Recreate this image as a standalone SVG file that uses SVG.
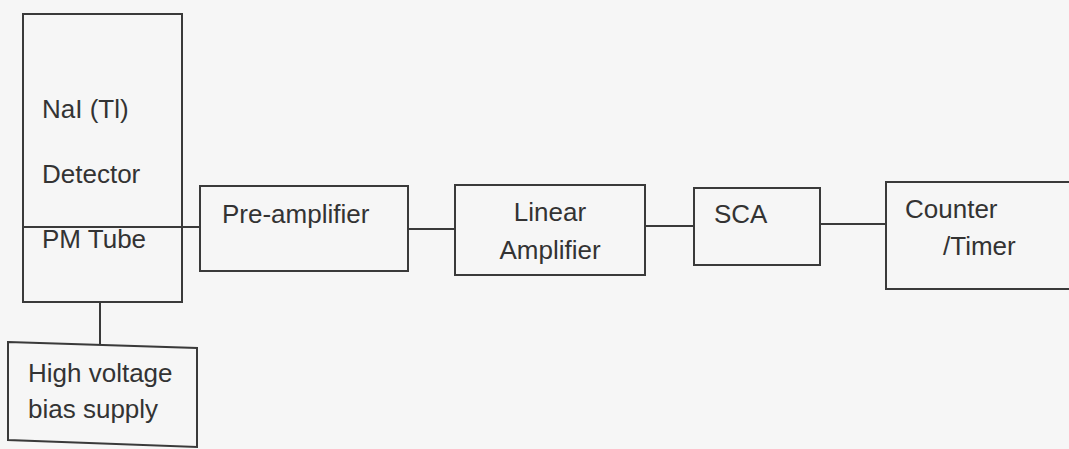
<svg xmlns="http://www.w3.org/2000/svg" width="1069" height="449" viewBox="0 0 1069 449">
<style>
.box{fill:none;stroke:#3a3a3a;stroke-width:2}
.ln{fill:none;stroke:#3a3a3a;stroke-width:2}
.t{font-family:"Liberation Sans",Arial,sans-serif;font-size:26px;fill:#333}
</style>
<rect width="1069" height="449" fill="#f6f6f6"/>
<g id="connectors">
<line class="ln" x1="23" y1="227" x2="200" y2="227"/>
<line class="ln" x1="408" y1="229" x2="455" y2="229"/>
<line class="ln" x1="645" y1="226" x2="694" y2="226"/>
<line class="ln" x1="820" y1="224" x2="886" y2="224"/>
<line class="ln" x1="100" y1="302" x2="100" y2="345"/>
</g>
<g id="detector">
<rect class="box" x="23" y="14" width="159" height="288"/>
<text class="t" x="42" y="118">NaI (Tl)</text>
<text class="t" x="42" y="183">Detector</text>
<text class="t" x="42" y="248">PM Tube</text>
</g>
<g id="hv">
<polygon class="box" points="8,342 197,348 197,447 8,440"/>
<text class="t" x="28" y="382">High voltage</text>
<text class="t" x="28" y="418">bias supply</text>
</g>
<g id="preamp">
<rect class="box" x="200" y="186" width="208" height="85"/>
<text class="t" x="222" y="223">Pre-amplifier</text>
</g>
<g id="linear">
<rect class="box" x="455" y="185" width="190" height="90"/>
<text class="t" x="550" y="221" text-anchor="middle">Linear</text>
<text class="t" x="550" y="259" text-anchor="middle">Amplifier</text>
</g>
<g id="sca">
<rect class="box" x="694" y="188" width="126" height="77"/>
<text class="t" x="714" y="223">SCA</text>
</g>
<g id="counter">
<rect class="box" x="886" y="182" width="190" height="107"/>
<text class="t" x="905" y="218">Counter</text>
<text class="t" x="943" y="255">/Timer</text>
</g>
</svg>
